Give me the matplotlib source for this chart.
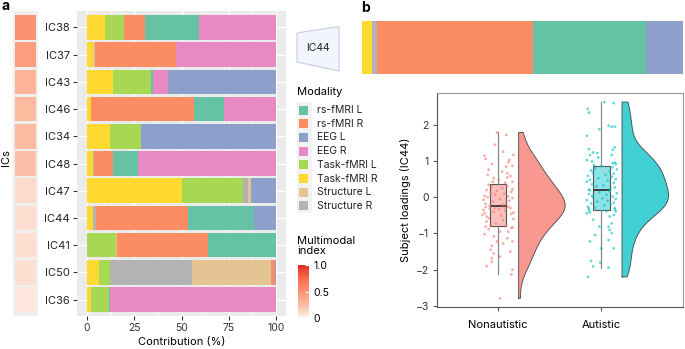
import numpy as np
import matplotlib
matplotlib.use('Agg')
import matplotlib.pyplot as plt
from matplotlib.colors import LinearSegmentedColormap
from matplotlib.patches import Polygon, Rectangle
import matplotlib.colorbar as mcolorbar

plt.rcParams['font.family'] = ['Inter', 'DejaVu Sans']
plt.rcParams['font.size'] = 7.5

# ---- data ----
ic_labels = ['IC38', 'IC37', 'IC43', 'IC46', 'IC34', 'IC48', 'IC47', 'IC44', 'IC41', 'IC50', 'IC36']
multimodal_index = [0.5, 0.42, 0.3, 0.26, 0.25, 0.23, 0.12, 0.1, 0.1, 0.09, 0.06]

# contribution (%) per modality, same order as ic_labels
rs_fmri_l = [28.4, 0, 1.4, 16.3, 0, 13.3, 0, 35.1, 36.0, 0, 0.7]
rs_fmri_r = [11.3, 42.5, 0, 54.1, 0, 10.0, 0, 48.7, 48.1, 2.3, 0]
eeg_l = [0, 0, 57.3, 0, 71.3, 0, 13.2, 11.6, 0, 0.5, 0]
eeg_r = [40.7, 53.1, 7.6, 27.3, 0, 72.8, 0, 0, 0, 0, 87.8]
task_l = [9.9, 0, 19.8, 0, 16.7, 0, 32.6, 0, 15.2, 5.9, 9.4]
task_r = [9.7, 3.4, 13.9, 2.3, 12.0, 3.2, 50.1, 3.2, 0, 6.3, 2.1]
struct_l = [0, 1.0, 0, 0, 0, 0, 1.8, 0, 0.7, 41.8, 0]
struct_r = [0, 0, 0, 0, 0, 0.7, 2.3, 1.4, 0, 43.2, 0]

legend_order = ['rs-fMRI L', 'rs-fMRI R', 'EEG L', 'EEG R', 'Task-fMRI L', 'Task-fMRI R', 'Structure L', 'Structure R']
colors = {'rs-fMRI L': '#66c2a5', 'rs-fMRI R': '#fc8d62', 'EEG L': '#8da0cb', 'EEG R': '#e78ac3',
          'Task-fMRI L': '#a6d854', 'Task-fMRI R': '#ffd92f', 'Structure L': '#e5c494', 'Structure R': '#b3b3b3'}
# left-to-right stacking
stack = [('Task-fMRI R', task_r), ('Task-fMRI L', task_l), ('Structure R', struct_r), ('Structure L', struct_l),
         ('rs-fMRI R', rs_fmri_r), ('rs-fMRI L', rs_fmri_l), ('EEG R', eeg_r), ('EEG L', eeg_l)]

groups = ['Nonautistic', 'Autistic']
group_colors = ['#f8766d', '#00bfc4']

nonautistic = [-2.79, -2.13, -2.0, -1.9, -1.78, -1.68, -1.64, -1.55, -1.5, -1.45, -1.34, -1.28, -1.22, -1.22, -1.13, -1.08, -1.02, -0.95, -0.95, -0.88, -0.85, -0.83, -0.81,
               -0.79, -0.76, -0.72, -0.67, -0.63, -0.6, -0.58, -0.53, -0.5, -0.49, -0.46, -0.44, -0.42, -0.4, -0.37, -0.35, -0.33, -0.31, -0.3, -0.29, -0.28, -0.27, -0.26,
               -0.24, -0.21, -0.18, -0.16, -0.12, -0.09, -0.07, -0.05, -0.02, 0.0, 0.02, 0.04, 0.07, 0.1, 0.12, 0.15, 0.17, 0.2, 0.22, 0.25, 0.28, 0.31, 0.34,
               0.4, 0.43, 0.43, 0.48, 0.53, 0.55, 0.59, 0.62, 0.66, 0.71, 0.76, 0.85, 0.87, 0.92, 0.97, 1.03, 1.06, 1.15, 1.17, 1.26, 1.45, 1.72, 1.79]
nonautistic_jit = [0.02, 0.13, 0.14, -0.11, -0.06, -0.06, 0.02, -0.04, 0.12, -0.07, -0.06, 0.05, -0.01, 0.14, 0.09, -0.04, -0.13, 0.10, 0.02, -0.09, 0.13, 0.14, -0.12,
                   0.08, -0.07, -0.02, -0.11, 0.05, 0.15, -0.09, -0.11, 0.03, -0.15, 0.13, -0.13, 0.15, -0.04, 0.07, -0.14, 0.01, -0.08, 0.12, -0.03, 0.06, -0.12, 0.1,
                   -0.08, 0.04, -0.12, 0.08, -0.05, 0.11, -0.14, 0.02, 0.14, -0.1, 0.1, -0.13, -0.03, 0.06, -0.07, 0.13, -0.01, -0.11, 0.14, 0.04, -0.06, 0.09, -0.09,
                   0.07, -0.05, 0.14, 0.01, -0.04, 0.09, 0.12, -0.1, 0.09, 0.04, -0.09, 0.08, 0.14, -0.06, 0.1, 0.11, -0.12, -0.13, 0.15, 0.05, -0.03, 0.08, -0.01]
autistic = [-2.2, -1.94, -1.91, -1.8, -1.76, -1.41, -1.41, -1.22, -1.18, -1.04, -0.99, -0.9, -0.81, -0.81, -0.72, -0.62, -0.53, -0.49, -0.44, -0.42, -0.39, -0.38, -0.36,
            -0.34, -0.31, -0.3, -0.28, -0.26, -0.22, -0.2, -0.17, -0.15, -0.12, -0.1, -0.08, -0.05, -0.03, 0.0, 0.02, 0.04, 0.07, 0.09, 0.11, 0.14, 0.17, 0.19,
            0.21, 0.24, 0.27, 0.3, 0.33, 0.36, 0.4, 0.43, 0.46, 0.48, 0.5, 0.53, 0.57, 0.59, 0.62, 0.65, 0.68, 0.71, 0.74, 0.77, 0.8, 0.83, 0.86,
            0.89, 0.91, 0.94, 0.96, 0.99, 1.03, 1.1, 1.17, 1.17, 1.22, 1.24, 1.31, 1.33, 1.38, 1.7, 1.88, 1.95, 1.95, 1.98, 2.34, 2.44, 2.6, 2.63]
autistic_jit = [-0.13, 0.07, -0.08, -0.01, -0.1, 0.0, 0.12, -0.11, 0.07, -0.06, 0.1, 0.08, 0.07, -0.02, 0.1, -0.08, 0.08, 0.12, -0.14, -0.11, 0.14, 0.05, -0.12,
                0.13, -0.12, 0.13, -0.06, -0.13, 0.03, 0.09, -0.1, 0.12, -0.04, 0.06, -0.14, 0.14, 0.01, -0.08, 0.11, -0.09, 0.05, -0.12, 0.15, -0.02, 0.08, -0.11,
                -0.12, 0.09, 0.13, -0.05, 0.02, -0.09, 0.12, -0.14, 0.06, -0.11, 0.14, -0.03, 0.1, -0.13, 0.04, 0.12, -0.08, 0.08, -0.1, 0.15, -0.06, 0.11, 0.0,
                -0.07, 0.14, 0.11, 0.13, -0.09, -0.14, -0.03, -0.11, 0.1, -0.04, -0.08, 0.11, -0.12, 0.13, -0.14, -0.02, 0.1, 0.13, 0.07, -0.12, -0.13, 0.12, 0.03]

W, H = 685, 349
fig = plt.figure(figsize=(W / 100, H / 100), dpi=100)


def px_axes(x0, y0, x1, y1, **kw):
    return fig.add_axes([x0 / W, 1 - y1 / H, (x1 - x0) / W, (y1 - y0) / H], **kw)


cmap = LinearSegmentedColormap.from_list('mm', ['#fff5f0', '#fcbba1', '#fc9272', '#fb6a4a', '#de2d26'])
ypos = np.arange(len(ic_labels))

# ---- a: multimodal index column ----
ax_mm = px_axes(13, 11, 38, 316)
ax_mm.set_facecolor('#efefef')
for i, v in enumerate(multimodal_index):
    ax_mm.add_patch(Rectangle((-0.5, i - 0.45), 1, 0.9, facecolor=cmap(v), edgecolor='none'))
ax_mm.set_xlim(-0.57, 0.57)
ax_mm.set_ylim(len(ic_labels) - 0.4, -0.6)
ax_mm.set_xticks([])
ax_mm.set_yticks([])
for s in ax_mm.spines.values():
    s.set_visible(False)

# ---- a: stacked bars ----
ax_b = px_axes(77, 11, 286, 316)
ax_b.set_facecolor('#ebebeb')
left = np.zeros(len(ic_labels))
for name, vals in stack:
    vals = np.array(vals, dtype=float)
    ax_b.barh(ypos, vals, left=left, height=0.9, color=colors[name], edgecolor='none', zorder=3)
    left += vals
ax_b.set_xlim(-5.3, 105.3)
ax_b.set_ylim(len(ic_labels) - 0.4, -0.6)
ax_b.set_yticks(ypos)
ax_b.set_yticklabels(ic_labels, fontsize=8, color='#222')
ax_b.set_xticks([0, 25, 50, 75, 100])
ax_b.set_xticklabels(['0', '25', '50', '75', '100'], color='#333')
ax_b.set_xticks([12.5, 37.5, 62.5, 87.5], minor=True)
ax_b.grid(True, which='major', color='white', lw=0.9, zorder=0)
ax_b.grid(True, which='minor', axis='x', color='white', lw=0.5, zorder=0)
ax_b.tick_params(which='major', length=3, color='#333', pad=2)
ax_b.tick_params(which='minor', length=0)
for s in ax_b.spines.values():
    s.set_visible(False)
ax_b.set_xlabel('Contribution (%)', fontsize=8, labelpad=3)

# ---- b: IC44 strip ----
k = ic_labels.index('IC44')
ax_s = px_axes(362, 21, 683, 74)
left = 0.0
for name, vals in stack:
    ax_s.barh(0, vals[k], left=left, height=1, color=colors[name], edgecolor='none')
    left += vals[k]
ax_s.set_xlim(0, 100)
ax_s.set_ylim(-0.5, 0.5)
ax_s.axis('off')

# ---- b: raincloud ----
ax_r = px_axes(437, 93, 683, 307)
for i, (vals, jit) in enumerate([(nonautistic, nonautistic_jit), (autistic, autistic_jit)]):
    pos = i + 1
    v = np.array(vals)
    col = group_colors[i]
    # half violin from a gaussian kde
    sd = v.std(ddof=1)
    q75, q25 = np.percentile(v, [75, 25])
    bw = 0.9 * min(sd, (q75 - q25) / 1.34) * len(v) ** -0.2
    grid = np.linspace(v.min(), v.max(), 300)
    dens = np.exp(-0.5 * ((grid[:, None] - v[None, :]) / bw) ** 2).sum(axis=1)
    w = dens / dens.max() * 0.45
    ax_r.fill_betweenx(grid, pos + 0.2, pos + 0.2 + w, facecolor=col, alpha=0.75, edgecolor='none', zorder=2)
    ax_r.plot(np.r_[pos + 0.2, pos + 0.2 + w, pos + 0.2, pos + 0.2], np.r_[grid[0], grid, grid[-1], grid[0]],
              color='#444', lw=0.6, zorder=3)
    ax_r.scatter(pos + np.array(jit), v, s=4, color=col, alpha=0.6, edgecolors='none', zorder=4)
    ax_r.boxplot([v], positions=[pos], widths=0.16, patch_artist=True, showfliers=False, showcaps=False,
                 boxprops=dict(facecolor=matplotlib.colors.to_rgba(col, 0.45), edgecolor='#555', lw=0.8),
                 whiskerprops=dict(color='#888', lw=0.9), medianprops=dict(color='#333', lw=1.3), zorder=3)
ax_r.set_xlim(0.41, 2.79)
ax_r.set_ylim(-3.03, 2.88)
ax_r.set_xticks([1, 2])
ax_r.set_xticklabels(groups, fontsize=8)
ax_r.set_yticks([-3, -2, -1, 0, 1, 2])
ax_r.set_yticklabels(['\u22123', '\u22122', '\u22121', '0', '1', '2'], color='#333')
ax_r.tick_params(axis='y', length=3, color='#555', pad=3)
ax_r.tick_params(axis='x', length=3, color='#555', pad=6)
ax_r.set_ylabel('Subject loadings (IC44)', fontsize=8, labelpad=3)
for side in ['left', 'bottom']:
    ax_r.spines[side].set_color('#555')
for side in ['top', 'right']:
    ax_r.spines[side].set_color('#999')
for s in ax_r.spines.values():
    s.set_linewidth(0.8)

# ---- overlay: panel letters, IC44 label, legend ----
ov = fig.add_axes([0, 0, 1, 1])
ov.set_xlim(0, W)
ov.set_ylim(H, 0)
ov.axis('off')
ov.patch.set_alpha(0)
ov.text(1, 6, 'a', fontsize=10, fontweight='bold', va='center', ha='left')
ov.text(361, 8, 'b', fontsize=10, fontweight='bold', va='center', ha='left')
ov.text(6, 158, 'ICs', fontsize=8, rotation=90, va='center', ha='center')
ov.add_patch(Polygon([(297, 33), (339, 26.5), (339, 71), (297, 62)], closed=True,
                     facecolor='#f3f5fc', edgecolor='#c5cde8', lw=0.8))
ov.text(318, 48, 'IC44', fontsize=7.5, ha='center', va='center', color='#222')

ov.text(297, 92, 'Modality', fontsize=8, ha='left', va='center')
ov.add_patch(Rectangle((297, 102), 15, 111, facecolor='#f2f2f2', edgecolor='none'))
for j, name in enumerate(legend_order):
    yc = 110 + j * 13.7
    ov.add_patch(Rectangle((299.5, yc - 4.5), 9, 9, facecolor=colors[name], edgecolor='none'))
    ov.text(317, yc, name, fontsize=7.5, ha='left', va='center', color='#222')
ov.text(297, 246, 'Multimodal\nindex', fontsize=8, ha='left', va='center', linespacing=1.1)

# colorbar
cax = px_axes(298, 265, 309, 318)
cb = mcolorbar.ColorbarBase(cax, cmap=cmap, orientation='vertical',
                            norm=matplotlib.colors.Normalize(0, 1), ticks=[0, 0.5, 1])
cb.outline.set_visible(False)
cb.set_ticklabels(['0', '0.5', '1.0'])
cax.tick_params(length=3, color='white', direction='in', labelsize=7.5, pad=3)

fig.savefig('out.png', dpi=100)
